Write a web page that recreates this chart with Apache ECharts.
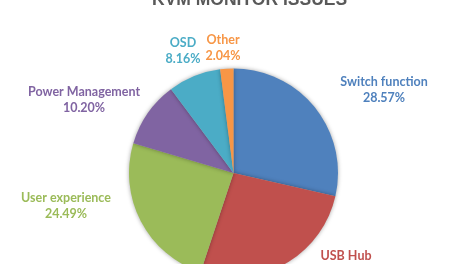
<!DOCTYPE html>
<html><head><meta charset="utf-8">
<script src="https://cdn.jsdelivr.net/npm/echarts@6/dist/echarts.min.js"></script>
<style>html,body{margin:0;padding:0;background:#fff}#c{width:468px;height:264px}</style>
</head><body><div id="c"></div>
<script>
const titleText = 'KVM MONITOR ISSUES';
const categories = ['Switch function', 'USB Hub', 'User experience', 'Power Management', 'OSD', 'Other'];
const values = [14, 13, 12, 5, 4, 1];
const colors = ['#4F81BD', '#C0504D', '#9BBB59', '#8064A2', '#4BACC6', '#F79646'];
// label anchor points (center of two-line label block)
const labelPos = [[384, 90], [346, 264], [66, 206], [84, 100], [183, 51], [223, 48]];

const total = values.reduce((a, b) => a + b, 0);
const chart = echarts.init(document.getElementById('c'));
chart.setOption({
  animation: false,
  title: {
    text: titleText, left: 147, top: -14,
    textStyle: {fontFamily: 'Liberation Sans', fontWeight: 'bold', fontSize: 17.5, color: '#595959'}
  },
  series: [{
    type: 'pie',
    center: [233.5, 173],
    radius: [0, 104.5],
    startAngle: 90,
    clockwise: true,
    data: categories.map((c, i) => ({name: c, value: values[i], itemStyle: {color: colors[i]}, label: {color: colors[i]}})),
    itemStyle: {shadowBlur: 4, shadowColor: 'rgba(0,0,0,0.35)', borderWidth: 0},
    label: {
      show: true, position: 'outside', overflow: 'none',
      formatter: p => p.name + '\n' + (p.value / total * 100).toFixed(2) + '%',
      fontFamily: 'Lato', fontWeight: 'bold', fontSize: 12.5, lineHeight: 16, align: 'center'
    },
    labelLine: {show: false},
    labelLayout: function (p) {
      const pos = labelPos[p.dataIndex];
      return {x: pos[0], y: pos[1], align: 'center', verticalAlign: 'middle'};
    }
  }]
});
</script></body></html>
